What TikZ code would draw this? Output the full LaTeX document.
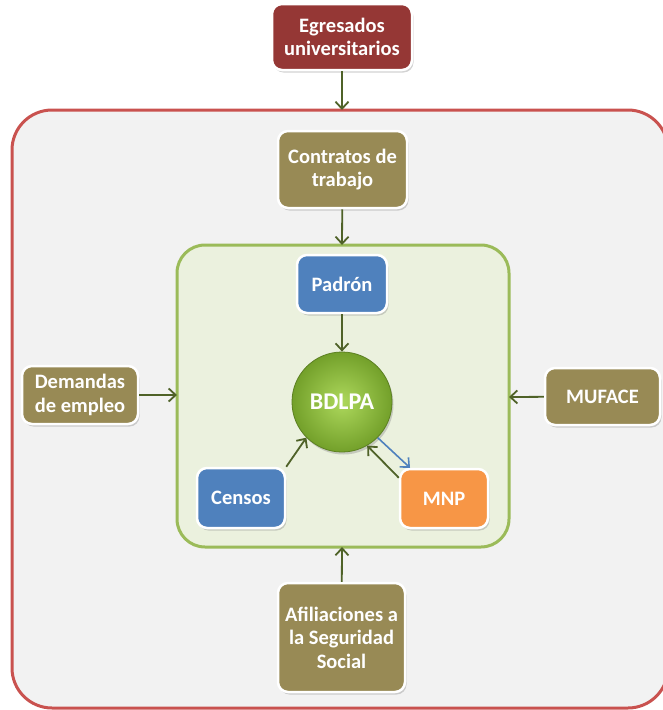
\documentclass[tikz,border=0pt]{standalone}
\usepackage{fontspec}
\setmainfont{Carlito}
\usetikzlibrary{arrows.meta,shadows}

\definecolor{egrred}{HTML}{953735}
\definecolor{olivebox}{HTML}{988A55}
\definecolor{bluebox}{HTML}{4F81BD}
\definecolor{orangebox}{HTML}{F79646}
\definecolor{outerred}{HTML}{C9524F}
\definecolor{outerfill}{HTML}{F2F2F2}
\definecolor{greenline}{HTML}{9BBB59}
\definecolor{greenfill}{HTML}{EBF1DE}
\definecolor{arrowgreen}{HTML}{4F6228}
\definecolor{arrowblue}{HTML}{4F81BD}
\definecolor{ballin}{HTML}{ADD85C}
\definecolor{ballout}{HTML}{73A02A}

\begin{document}
\begin{tikzpicture}[x=1pt,y=-1pt,
  every node/.style={font=\fontsize{20.5}{23.5}\selectfont\bfseries,text=white,align=center},
  srcbox/.style={rectangle,rounded corners=10pt,draw=white,line width=2.5pt,
    drop shadow={opacity=0.35,shadow xshift=1.5pt,shadow yshift=-2.5pt},
    inner sep=2pt},
  arr/.style={-{Straight Barb[length=7pt,width=13pt]},line width=1.8pt,draw=arrowgreen}
  ]
\useasboundingbox (0,0) rectangle (663,710);
\clip (0,0) rectangle (663,710);

% frames
\draw[outerred,fill=outerfill,line width=3pt,rounded corners=40pt] (12,110) rectangle (668,708);
\draw[greenline,fill=greenfill,line width=3pt,rounded corners=28pt] (177,245) rectangle (509,547);
\coordinate (outertop) at (342,110);
\coordinate (greentop) at (342,245);
\coordinate (greenleft) at (177,395);
\coordinate (greenright) at (509,397);
\coordinate (greenbottom) at (342,547);

% sources
\node[srcbox,fill=egrred,minimum width=140pt,minimum height=66pt] (egr) at (342,37) {Egresados\\universitarios};
\node[srcbox,fill=olivebox,minimum width=129pt,minimum height=77pt] (con) at (342.5,169.5) {Contratos de\\trabajo};
\node[srcbox,fill=olivebox,minimum width=116pt,minimum height=58pt] (dem) at (80,395) {Demandas\\de empleo};
\node[srcbox,fill=olivebox,minimum width=115pt,minimum height=57pt] (muf) at (602.5,396.5) {MUFACE};
\node[srcbox,fill=olivebox,minimum width=127pt,minimum height=109pt] (afi) at (341.5,637.5) {Afiliaciones a\\la Seguridad\\Social};

\node[srcbox,fill=bluebox,minimum width=90pt,minimum height=58pt] (pad) at (342,284) {Padrón};
\node[srcbox,fill=bluebox,minimum width=88pt,minimum height=60pt] (cen) at (241,498) {Censos};
\node[srcbox,fill=orangebox,minimum width=88pt,minimum height=59pt] (mnp) at (444,498.5) {MNP};

% centre
\node[circle,minimum size=100pt,draw=ballout!80!black,line width=0.8pt,
  shading=radial,inner color=ballin,outer color=ballout,
  drop shadow={opacity=0.35,shadow xshift=1.5pt,shadow yshift=-2.5pt},
  font=\fontsize{24}{28}\selectfont\bfseries] (bdlpa) at (342,402) {BDLPA};

% connectors
\draw[arr] (egr) -- (outertop);
\draw[arr] (con) -- (greentop);
\draw[arr] (dem) -- (greenleft);
\draw[arr] (muf) -- (greenright);
\draw[arr] (afi) -- (greenbottom);
\draw[arr] (pad) -- (bdlpa);
\draw[arr] (cen.north east) -- (bdlpa.225);
\draw[arr] ([yshift=-10pt]mnp.north west) -- (bdlpa.-60);
\draw[arr,draw=arrowblue,line width=1.6pt] (bdlpa.-45) -- ([xshift=-34pt]mnp.north);
\end{tikzpicture}
\end{document}
